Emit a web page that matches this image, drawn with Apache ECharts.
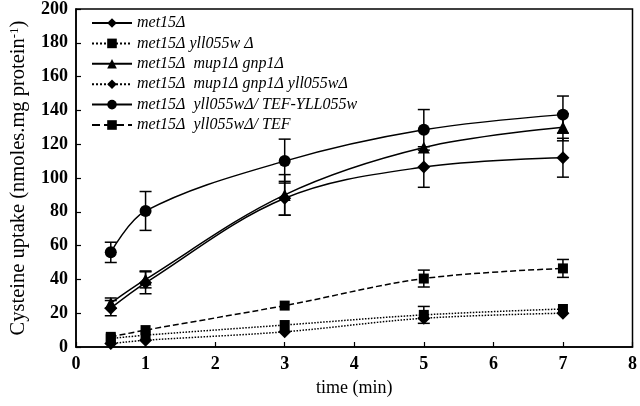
<!DOCTYPE html>
<html><head><meta charset="utf-8">
<script src="https://cdn.jsdelivr.net/npm/echarts@6/dist/echarts.min.js"></script>
<style>html,body{margin:0;padding:0;background:#fff}#c{width:640px;height:406px}</style>
</head><body><div id="c"></div>
<script>
var times = [0.5, 1, 3, 5, 7];
var names = ['met15\u0394', 'met15\u0394 yll055w \u0394', 'met15\u0394  mup1\u0394 gnp1\u0394',
  'met15\u0394  mup1\u0394 gnp1\u0394 yll055w\u0394', 'met15\u0394  yll055w\u0394/ TEF-YLL055w', 'met15\u0394  yll055w\u0394/ TEF'];
var met15 = [23, 38, 88, 106.5, 112];
var met15Err = [4.5, 6.5, 10, 12, 11.5];
var yll055w = [5, 7, 13, 19, 22.5];
var yll055wErr = [0, 0, 0, 5, 0];
var mup1gnp1 = [26, 40, 90, 118, 130];
var mup1gnp1Err = [3, 5, 12, 0, 8];
var mup1gnp1yll = [2, 4, 9, 17, 20];
var mup1gnp1yllErr = [0, 0, 0, 0, 0];
var tefYll = [56, 80.5, 110, 128.5, 137.5];
var tefYllErr = [6, 11.5, 13, 12, 11];
var tef = [6, 10, 24.5, 40.5, 46.5];
var tefErr = [0, 0, 0, 5, 5.3];
var xTicks = [0, 1, 2, 3, 4, 5, 6, 7, 8];
var yTicks = [0, 20, 40, 60, 80, 100, 120, 140, 160, 180, 200];

var font = 'Liberation Serif';
function pts(v){ return times.map(function(t,i){ return [t, v[i]]; }); }
function errData(v, e){ return times.map(function(t,i){ return [t, v[i], e[i]]; }); }

var defs = [
  {name: names[0], data: met15, err: met15Err, symbol: 'diamond', size: 13, type: 'solid'},
  {name: names[1], data: yll055w, err: yll055wErr, symbol: 'rect', size: 10, type: 'dotted'},
  {name: names[2], data: mup1gnp1, err: mup1gnp1Err, symbol: 'triangle', size: 12, type: 'solid'},
  {name: names[3], data: mup1gnp1yll, err: mup1gnp1yllErr, symbol: 'diamond', size: 13, type: 'dotted'},
  {name: names[4], data: tefYll, err: tefYllErr, symbol: 'circle', size: 12, type: 'solid'},
  {name: names[5], data: tef, err: tefErr, symbol: 'rect', size: 10, type: 'dashed'}
];

var series = [];
defs.forEach(function(d){
  series.push({
    name: d.name, type: 'line', data: pts(d.data), smooth: 0.35,
    symbol: d.symbol, symbolSize: d.size, showSymbol: true,
    lineStyle: {color: '#000', width: 1.5, type: d.type},
    itemStyle: {color: '#000'}, z: 3, animation: false
  });
  series.push({
    type: 'custom', data: errData(d.data, d.err), z: 2, animation: false, silent: true,
    renderItem: function(params, api){
      var e = api.value(2);
      if (!e) return null;
      var x = api.value(0), y = api.value(1);
      var top = api.coord([x, y + e]), bot = api.coord([x, y - e]);
      var w = 6;
      var st = {stroke: '#000', lineWidth: 1.5};
      return {type: 'group', children: [
        {type: 'line', shape: {x1: top[0], y1: top[1], x2: bot[0], y2: bot[1]}, style: st},
        {type: 'line', shape: {x1: top[0]-w, y1: top[1], x2: top[0]+w, y2: top[1]}, style: st},
        {type: 'line', shape: {x1: bot[0]-w, y1: bot[1], x2: bot[0]+w, y2: bot[1]}, style: st}
      ]};
    }
  });
});

var chart = echarts.init(document.getElementById('c'), null, {renderer: 'canvas'});
chart.setOption({
  animation: false,
  backgroundColor: '#fff',
  grid: {left: 72, right: 7, top: 8.5, bottom: 59, show: true, borderColor: '#000', borderWidth: 1.5, containLabel: false},
  legend: {
    orient: 'vertical', left: 86, top: 10, itemWidth: 40, itemHeight: 12, itemGap: 4.4,
    data: names,
    textStyle: {fontFamily: font, fontStyle: 'italic', fontSize: 16, color: '#000'}
  },
  xAxis: {
    type: 'value', min: 0, max: 8, interval: 1,
    name: 'time (min)', nameLocation: 'middle', nameGap: 32,
    nameTextStyle: {fontFamily: font, fontSize: 18, color: '#000'},
    axisLine: {lineStyle: {color: '#000', width: 1.5}},
    axisTick: {inside: true, length: 5, lineStyle: {color: '#000', width: 1.2}},
    axisLabel: {fontFamily: font, fontWeight: 'bold', fontSize: 18, color: '#000', margin: 8,
      formatter: function(v){ return xTicks.indexOf(v) >= 0 ? String(v) : ''; }},
    splitLine: {show: false}
  },
  yAxis: {
    type: 'value', min: 0, max: 200, interval: 20,
    name: '{a|Cysteine uptake (nmoles.mg protein}{s|-1}{a|)}', nameLocation: 'middle', nameGap: 46,
    nameTextStyle: {fontFamily: font, fontSize: 20.5, color: '#000',
      rich: {a: {fontFamily: font, fontSize: 20.5, color: '#000'},
             s: {fontFamily: font, fontSize: 13, color: '#000', verticalAlign: 'top', padding: [0,0,9,0]}}},
    axisLine: {show: true, lineStyle: {color: '#000', width: 1.5}},
    axisTick: {show: true, inside: true, length: 5, lineStyle: {color: '#000', width: 1.2}},
    axisLabel: {fontFamily: font, fontWeight: 'bold', fontSize: 18, color: '#000', margin: 8,
      formatter: function(v){ return yTicks.indexOf(v) >= 0 ? String(v) : ''; }},
    splitLine: {show: false}
  },
  series: series
});
</script></body></html>
